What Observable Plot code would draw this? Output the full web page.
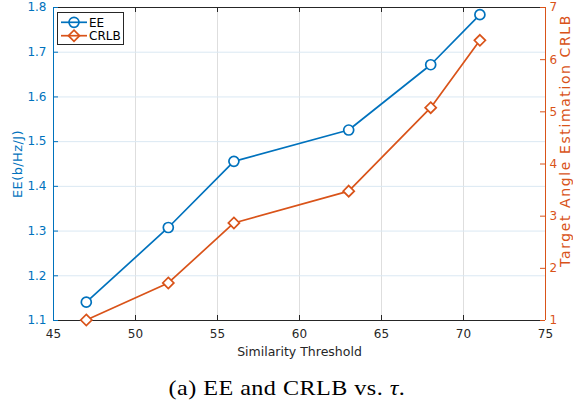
<!DOCTYPE html>
<html><head><meta charset="utf-8">
<script src="https://cdn.jsdelivr.net/npm/d3@7"></script>
<script src="https://cdn.jsdelivr.net/npm/@observablehq/plot@0.6"></script>
<style>
html,body{margin:0;padding:0;background:#fff;}
#wrap{position:relative;width:573px;height:407px;overflow:hidden;background:#fff;}
#wrap svg.layer{position:absolute;left:0;top:0;}
#legend{position:absolute;left:57px;top:12px;}
#caption{position:absolute;left:0;top:378px;width:573px;text-align:center;font-family:"Liberation Serif","Times New Roman",serif;font-size:21px;line-height:21px;color:#000;}
</style></head><body>
<div id="wrap"></div>
<script>
// ---- data ----
const thresholds = [47, 52, 56, 63, 68, 71];
const eeValues = [1.141, 1.308, 1.456, 1.526, 1.672, 1.784];
const crlbValues = [1.01, 1.72, 2.87, 3.48, 5.08, 6.37];
const xTicks = [45, 50, 55, 60, 65, 70, 75];
const eeTicks = [1.1, 1.2, 1.3, 1.4, 1.5, 1.6, 1.7, 1.8];
const crlbTicks = [1, 2, 3, 4, 5, 6, 7];
const seriesNames = ["EE", "CRLB"];
const xLabel = "Similarity Threshold";
const eeLabel = "EE(b/Hz/J)";
const crlbLabel = "Target Angle Estimation CRLB";
const captionPrefix = "(a) EE and CRLB vs. ";
const captionSymbol = "τ";

const blue = "#0072BD", orange = "#D95319", dark = "#262626";
const data = thresholds.map((t, i) => ({t, ee: eeValues[i], crlb: crlbValues[i]}));

const W = 573, H = 360;
const common = {
  width: W, height: H, marginLeft: 53, marginRight: 28, marginTop: 7, marginBottom: 40,
  style: {fontFamily: "DejaVu Sans", fontSize: "12px", background: "transparent", overflow: "visible"}
};
const innerW = W - 53 - 28, innerH = H - 7 - 40;

const p1 = Plot.plot({
  ...common,
  x: {domain: [45, 75], axis: null},
  y: {domain: [1.1, 1.8], axis: null},
  marks: [
    Plot.ruleX(xTicks.slice(1, -1), {x: d => d, stroke: "#dedede", strokeWidth: 1}),
    Plot.ruleY(eeTicks.slice(1, -1), {y: d => d, stroke: "#dae8f3", strokeWidth: 1}),
    Plot.ruleY([1.8], {y: d => d, stroke: dark, strokeWidth: 1}),
    Plot.ruleY([1.1], {y: d => d, stroke: dark, strokeWidth: 1}),
    Plot.tickX(xTicks, {x: d => d, stroke: dark, insetTop: innerH - 5}),
    Plot.tickX(xTicks, {x: d => d, stroke: dark, insetBottom: innerH - 5}),
    Plot.ruleX([45], {x: d => d, stroke: blue, strokeWidth: 1}),
    Plot.tickY(eeTicks, {y: d => d, stroke: blue, insetRight: innerW - 5}),
    Plot.axisX(xTicks, {tickSize: 0, tickPadding: 9, fill: dark, label: null, fontSize: 12}),
    Plot.axisY(eeTicks, {tickSize: 0, tickPadding: 7, fill: blue, label: null, fontSize: 12, tickFormat: d3.format(".1f")}),
    Plot.text([xLabel], {text: d => d, frameAnchor: "bottom", textAnchor: "middle", lineAnchor: "bottom", dy: 35, fill: dark, fontSize: 12.5}),
    Plot.text([eeLabel], {text: d => d, frameAnchor: "left", textAnchor: "middle", rotate: -90, dx: -36, fill: blue, fontSize: 13}),
    Plot.line(data, {x: "t", y: "ee", stroke: blue, strokeWidth: 1.7}),
    Plot.dot(data, {x: "t", y: "ee", r: 5, symbol: "circle", stroke: blue, fill: "white", strokeWidth: 1.7})
  ]
});

const p2 = Plot.plot({
  ...common,
  x: {domain: [45, 75], axis: null},
  y: {domain: [1, 7], axis: null},
  marks: [
    Plot.ruleX([75], {x: d => d, stroke: orange, strokeWidth: 1}),
    Plot.tickY(crlbTicks, {y: d => d, stroke: orange, insetLeft: innerW - 5}),
    Plot.axisY(crlbTicks, {anchor: "right", tickSize: 0, tickPadding: 4, fill: orange, label: null, fontSize: 12, tickFormat: d3.format("d")}),
    Plot.text([crlbLabel], {text: d => d, frameAnchor: "right", textAnchor: "middle", rotate: -90, lineAnchor: "bottom", dx: 24.5, dy: -23.5, fill: orange, fontSize: 14}),
    Plot.line(data, {x: "t", y: "crlb", stroke: orange, strokeWidth: 1.7}),
    Plot.dot(data, {x: "t", y: "crlb", r: 5, symbol: "diamond2", stroke: orange, fill: "white", strokeWidth: 1.7})
  ]
});

// letter spacing to mimic the wider rendering of the reference
d3.select(p1).selectAll("text").filter(function() { return this.textContent === eeLabel; }).style("letter-spacing", "0.4px");
d3.select(p2).selectAll("text").filter(function() { return this.textContent === crlbLabel; }).style("letter-spacing", "1.6px");

const wrap = document.getElementById("wrap");
p1.classList.add("layer"); p2.classList.add("layer");
wrap.appendChild(p1);
wrap.appendChild(p2);

// legend
const lg = d3.select(wrap).append("svg").attr("id", "legend").attr("width", 70).attr("height", 36);
lg.append("rect").attr("x", 0.5).attr("y", 0.5).attr("width", 66).attr("height", 32).attr("fill", "white").attr("stroke", dark).attr("stroke-width", 1);
const rows = [{name: seriesNames[0], color: blue, sym: d3.symbolCircle, cy: 10.3},
              {name: seriesNames[1], color: orange, sym: d3.symbolDiamond2, cy: 23.7}];
rows.forEach(r => {
  lg.append("line").attr("x1", 4).attr("x2", 30).attr("y1", r.cy).attr("y2", r.cy).attr("stroke", r.color).attr("stroke-width", 1.7);
  lg.append("path").attr("d", d3.symbol(r.sym, Math.PI * 25)()).attr("transform", `translate(17,${r.cy})`)
    .attr("fill", "none").attr("stroke", r.color).attr("stroke-width", 1.7);
  lg.append("text").attr("x", 32).attr("y", r.cy + 4.3).attr("font-family", "DejaVu Sans").attr("font-size", 12).attr("fill", "#000").text(r.name);
});

// caption
const cap = document.createElement("div");
cap.id = "caption";
const inner = document.createElement("span");
inner.style.display = "inline-block";
inner.style.transform = "scaleX(1.15)";
inner.style.letterSpacing = "0.4px";
inner.appendChild(document.createTextNode(captionPrefix));
const tau = document.createElement("span");
tau.style.fontStyle = "italic";
tau.textContent = captionSymbol;
inner.appendChild(tau);
inner.appendChild(document.createTextNode("."));
cap.appendChild(inner);
wrap.appendChild(cap);
</script>
</body></html>
